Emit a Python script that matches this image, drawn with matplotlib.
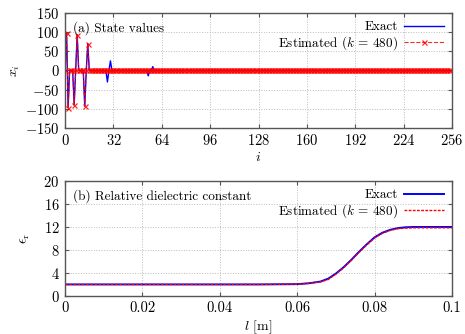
"""Recreate state values / relative dielectric constant figure -> out.png."""

import matplotlib

matplotlib.use("Agg")
import matplotlib.pyplot as plt
import numpy as np

# (a) state values: non-zero entries, index -> value
n_state = 256
spike_idx = [1, 2, 6, 8, 13, 15]
spike_val = [97, -97, -90, 93, -93, 70]
exact_only_idx = [28, 30, 55, 58]
exact_only_val = [-30, 25, -14, 10]

# (b) relative dielectric constant profile
l_pts = [0.0, 0.02, 0.04, 0.05, 0.06, 0.063, 0.066, 0.068, 0.070, 0.072, 0.074,
         0.076, 0.078, 0.080, 0.082, 0.084, 0.086, 0.088, 0.090, 0.095, 0.1]
eps_exact = [2.0, 2.0, 2.0, 2.0, 2.05, 2.2, 2.5, 3.0, 3.9, 5.0, 6.3,
             7.7, 9.0, 10.2, 11.0, 11.5, 11.8, 11.95, 12.0, 12.0, 12.0]
eps_est = [2.0, 2.0, 2.0, 2.0, 2.05, 2.2, 2.45, 2.85, 3.8, 4.9, 6.2,
           7.6, 8.9, 10.1, 10.9, 11.4, 11.7, 11.8, 11.85, 11.85, 11.85]

plt.rcParams.update({
    "font.family": "serif",
    "font.serif": ["cmr10", "DejaVu Serif"],
    "mathtext.fontset": "cm",
    "axes.formatter.use_mathtext": True,
    "axes.unicode_minus": False,
    "font.size": 9,
})

BORDER = "#555555"


def style(ax):
    ax.tick_params(direction="in", top=True, right=True, length=3,
                   color=BORDER, labelsize=10.5, pad=4)
    for s in ax.spines.values():
        s.set_color(BORDER)
        s.set_linewidth(1.0)
    ax.grid(True, color="#bbbbbb", linestyle=":", linewidth=0.7)


def legend(ax):
    ax.legend(loc="upper right", frameon=False, markerfirst=False, fontsize=9.5,
              numpoints=1, handlelength=3, borderaxespad=0.2, labelspacing=0.1,
              handletextpad=0.5)


fig = plt.figure(figsize=(4.65, 3.34), dpi=100)
ax0 = fig.add_axes([0.140, 0.617, 0.832, 0.344])
ax1 = fig.add_axes([0.140, 0.114, 0.832, 0.344])

i = np.arange(n_state)
x_est = np.zeros(n_state)
x_est[spike_idx] = spike_val
x_exact = x_est.copy()
x_exact[exact_only_idx] = exact_only_val

ax0.plot(i, x_exact, color="blue", linewidth=1.0, label="Exact")
ax0.plot(i, x_est, color="red", linestyle="--", linewidth=0.8, marker="x",
         markersize=3.6, markeredgewidth=0.9, alpha=0.85,
         label=r"Estimated ($k$ = 480)")
ax0.set_xlim(0, 256)
ax0.set_ylim(-150, 150)
ax0.set_xticks(np.arange(0, 257, 32))
ax0.set_yticks(np.arange(-150, 151, 50))
ax0.set_xlabel(r"$i$", labelpad=2, fontsize=10)
ax0.set_ylabel(r"$x_i$", labelpad=2, fontsize=10)
ax0.text(0.02, 0.93, "(a) State values", transform=ax0.transAxes,
         ha="left", va="top", fontsize=9.5)
style(ax0)
legend(ax0)

ax1.plot(l_pts, eps_exact, color="blue", linewidth=1.4, label="Exact")
ax1.plot(l_pts, eps_est, color="red", linestyle=(0, (2, 1)), linewidth=1.0,
         label=r"Estimated ($k$ = 480)")
ax1.set_xlim(0, 0.1)
ax1.set_ylim(0, 20)
ax1.set_xticks([0, 0.02, 0.04, 0.06, 0.08, 0.1])
ax1.set_xticklabels(["0", "0.02", "0.04", "0.06", "0.08", "0.1"])
ax1.set_yticks(np.arange(0, 21, 4))
ax1.set_xlabel(r"$l$ [m]", labelpad=2, fontsize=10)
ax1.set_ylabel(r"$\epsilon_{\rm r}$", labelpad=8, fontsize=10)
ax1.text(0.02, 0.93, "(b) Relative dielectric constant", transform=ax1.transAxes,
         ha="left", va="top", fontsize=9.5)
style(ax1)
legend(ax1)

fig.savefig("out.png", dpi=100)
